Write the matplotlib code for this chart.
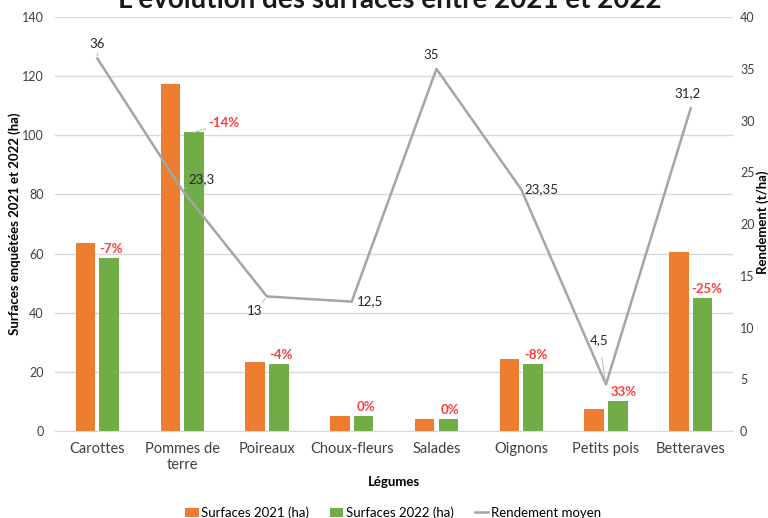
import numpy as np
import matplotlib
matplotlib.use("Agg")
import matplotlib.pyplot as plt

# %% data
legumes = ["Carottes", "Pommes de\nterre", "Poireaux", "Choux-fleurs", "Salades",
           "Oignons", "Petits pois", "Betteraves"]
surf_2021 = [63.5, 117.5, 23.5, 5, 4, 24.5, 7.5, 60.5]
surf_2022 = [58.5, 101, 22.5, 5, 4, 22.5, 10, 45]
variation = ["-7%", "-14%", "-4%", "0%", "0%", "-8%", "33%", "-25%"]
rendement = [36, 23.3, 13, 12.5, 35, 23.35, 4.5, 31.2]
rendement_txt = ["36", "23,3", "13", "12,5", "35", "23,35", "4,5", "31,2"]

# label offsets in pixels (dx right, dy down) and whether a leader line is drawn
rend_offsets = [(0, -14, True), (19, -11, True), (-12, 15, True), (18, 0, False),
                (-5, -14, False), (20, 0, False), (-7, -44, True), (-3, -15, False)]
var_offsets = [(2, -9, False), (30, -9, True), (2, -9, False), (2, -9, False),
               (2, -9, False), (3, -9, False), (6, -9, False), (4, -9, False)]

orange = "#ED7D31"
green = "#70AD47"
grey = "#A5A5A5"
px = 0.72  # points per pixel at dpi 100

plt.rcParams["font.family"] = ["Lato", "DejaVu Sans"]
plt.rcParams["font.size"] = 9

fig = plt.figure(figsize=(7.68, 5.18), dpi=100)
ax = fig.add_axes([0.0716, 0.168, 0.883, 0.799])
ax2 = ax.twinx()

x = np.arange(len(legumes))
w = 0.23
b1 = ax.bar(x - 0.14, surf_2021, w, color=orange, label="Surfaces 2021 (ha)", zorder=2)
b2 = ax.bar(x + 0.14, surf_2022, w, color=green, label="Surfaces 2022 (ha)", zorder=2)

for xi, yi, txt, (dx, dy, lead) in zip(x, surf_2022, variation, var_offsets):
    ax.annotate(txt, (xi + 0.14, yi), xytext=(dx * px, -dy * px), textcoords="offset points",
                ha="center", va="center", color="#FF3B3B", fontsize=9.5, fontweight="bold",
                arrowprops=dict(arrowstyle="-", color="#BFBFBF", lw=0.8,
                                shrinkA=14, shrinkB=0) if lead else None)

ln, = ax2.plot(x, rendement, color=grey, lw=1.8, label="Rendement moyen", zorder=3)
for xi, yi, txt, (dx, dy, lead) in zip(x, rendement, rendement_txt, rend_offsets):
    ax2.annotate(txt, (xi, yi), xytext=(dx * px, -dy * px), textcoords="offset points",
                 ha="center", va="center", color="#262626", fontsize=9.5,
                 arrowprops=dict(arrowstyle="-", color="#BFBFBF", lw=0.8,
                                 shrinkA=6, shrinkB=2) if lead else None)

ax.set_xlim(-0.5, len(legumes) - 0.5)
ax.set_ylim(0, 140)
ax.set_yticks(range(0, 141, 20))
ax2.set_ylim(0, 40)
ax2.set_yticks(range(0, 41, 5))
ax.grid(axis="y", color="#D9D9D9", lw=1, zorder=0)
ax.set_axisbelow(True)
ax.set_xticks(x)
ax.set_xticklabels(legumes, fontsize=10.5, color="#262626")

for a in (ax, ax2):
    for s in a.spines.values():
        s.set_visible(False)
    a.tick_params(length=0, colors="#404040", labelsize=9)
ax.spines["bottom"].set_visible(True)
ax.spines["bottom"].set_color("#D9D9D9")
ax.tick_params(axis="x", pad=8, labelsize=10.5)
ax.tick_params(axis="y", pad=8)
ax2.tick_params(axis="y", pad=5)

ax.set_xlabel("Légumes", fontweight="bold", fontsize=9.5, labelpad=3)
fig.text(15 / 768, 1 - 224 / 518, "Surfaces enquêtées 2021 et 2022 (ha)", rotation=90,
         ha="center", va="center", fontweight="bold", fontsize=9.5)
fig.text(763 / 768, 1 - 222 / 518, "Rendement (t/ha)", rotation=90,
         ha="center", va="center", fontweight="bold", fontsize=9.5)

fig.legend(handles=[b1, b2, ln], loc="lower center", ncol=3, frameon=False,
           bbox_to_anchor=(0.512, -0.025), fontsize=9.5, handlelength=1.0, handletextpad=0.2,
           columnspacing=1.6)

fig.text(0.507, 1 - 8 / 518, "L'évolution des surfaces entre 2021 et 2022", ha="center",
         va="baseline", fontsize=20, fontweight="bold", color="#1a1a1a")

plt.savefig("out.png", dpi=100)
plt.close()
